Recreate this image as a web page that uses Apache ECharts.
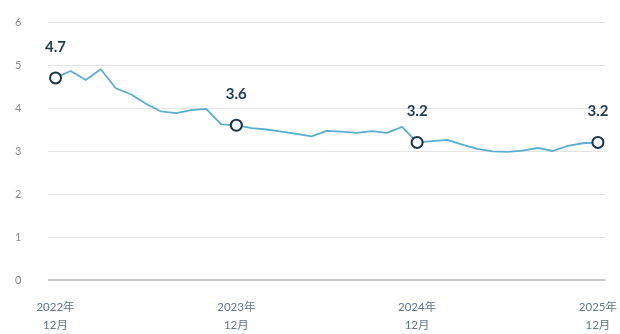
<!DOCTYPE html>
<html>
<head>
<meta charset="utf-8">
<script src="https://cdn.jsdelivr.net/npm/echarts@6/dist/echarts.min.js"></script>
<style>
  html, body { margin: 0; padding: 0; background: #ffffff; }
  #chart { width: 620px; height: 334px; }
</style>
</head>
<body>
<div id="chart"></div>
<script>
// Monthly readings, Dec 2022 through Dec 2025
const months = [
  '2022-12', '2023-01', '2023-02', '2023-03', '2023-04', '2023-05', '2023-06',
  '2023-07', '2023-08', '2023-09', '2023-10', '2023-11', '2023-12',
  '2024-01', '2024-02', '2024-03', '2024-04', '2024-05', '2024-06',
  '2024-07', '2024-08', '2024-09', '2024-10', '2024-11', '2024-12',
  '2025-01', '2025-02', '2025-03', '2025-04', '2025-05', '2025-06',
  '2025-07', '2025-08', '2025-09', '2025-10', '2025-11', '2025-12'
];
const values = [
  4.7, 4.86, 4.65, 4.9, 4.46, 4.32, 4.1,
  3.92, 3.88, 3.95, 3.98, 3.62, 3.6,
  3.53, 3.5, 3.45, 3.4, 3.34, 3.47,
  3.45, 3.42, 3.46, 3.42, 3.56, 3.2,
  3.23, 3.26, 3.15, 3.05, 2.99, 2.98,
  3.01, 3.07, 3.0, 3.12, 3.18, 3.2
];
// Year-end months that get a ring marker and a value label
const highlighted = ['2022-12', '2023-12', '2024-12', '2025-12'];
const yTicks = [0, 1, 2, 3, 4, 5, 6];

const FONT = "Lato, 'Noto Sans CJK SC', sans-serif";

const seriesData = values.map((v, i) => {
  const on = highlighted.includes(months[i]);
  return on
    ? { value: v, symbol: 'circle', symbolSize: 11,
        label: { show: true } }
    : { value: v, symbol: 'none' };
});

const chart = echarts.init(document.getElementById('chart'), null, { renderer: 'canvas' });
chart.setOption({
  animation: false,
  backgroundColor: '#ffffff',
  grid: { left: 48, right: 14, top: 22, bottom: 54, containLabel: false },
  xAxis: {
    type: 'category',
    data: months,
    boundaryGap: true,
    axisLine: { show: false },
    axisTick: { show: false },
    axisLabel: {
      interval: (idx, val) => highlighted.includes(val),
      formatter: (val) => {
        const [y, m] = val.split('-');
        return y + '年\n' + Number(m) + '月';
      },
      color: '#5d7590',
      fontFamily: FONT,
      fontSize: 11.5,
      lineHeight: 18,
      margin: 18
    }
  },
  yAxis: {
    type: 'value',
    min: yTicks[0],
    max: yTicks[yTicks.length - 1],
    interval: 1,
    axisLine: { show: false },
    axisTick: { show: false },
    axisLabel: {
      color: '#8a8a8a',
      fontFamily: FONT,
      fontSize: 11,
      margin: 33,
      align: 'left'
    },
    splitLine: {
      lineStyle: { color: '#e4e4e4', width: 1 }
    }
  },
  series: [
    {
      type: 'line',
      data: seriesData,
      smooth: false,
      lineStyle: { color: '#5aadd0', width: 1.8 },
      itemStyle: { color: '#ffffff', borderColor: '#1e3447', borderWidth: 2 },
      label: {
        position: 'top',
        distance: 17,
        color: '#1e3a52',
        fontFamily: FONT,
        fontWeight: 'bold',
        fontSize: 15,
        formatter: (p) => p.value.toFixed(1)
      },
      markLine: {
        silent: true,
        symbol: 'none',
        label: { show: false },
        lineStyle: { color: '#c8c8c8', width: 2, type: 'solid' },
        data: [{ yAxis: 0 }]
      },
      z: 3
    }
  ]
});
</script>
</body>
</html>
